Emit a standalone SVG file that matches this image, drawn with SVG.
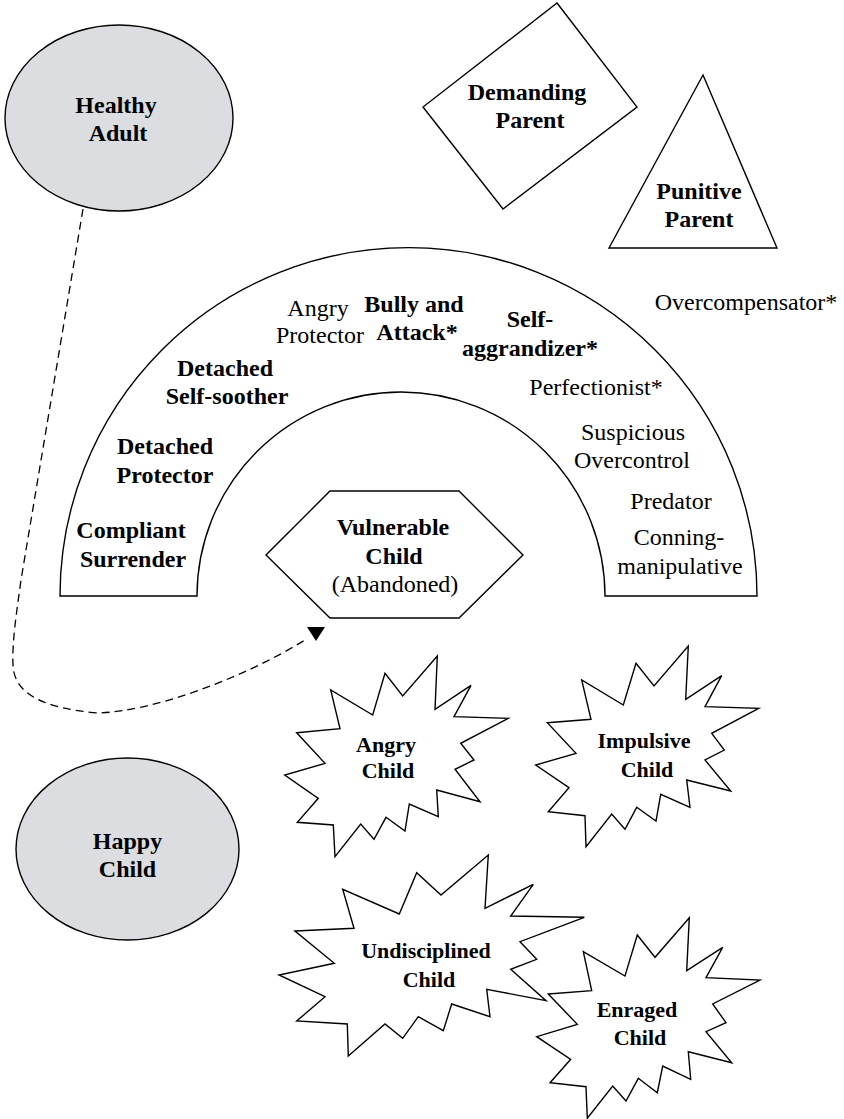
<svg xmlns="http://www.w3.org/2000/svg" width="844" height="1119" viewBox="0 0 844 1119">
  <style>
    .shape { fill: #ffffff; stroke: #000000; stroke-width: 1.4; stroke-linejoin: miter; }
    .mode { fill: #dcdde0; stroke: #000000; stroke-width: 1.4; }
    text { font-family: "Liberation Serif", "Times New Roman", serif; font-size: 24px; fill: #000000; text-anchor: middle; }
    .b { font-weight: bold; }
    .star { font-size: 22px; font-weight: bold; }
    .link { fill: none; stroke: #000000; stroke-width: 1.3; stroke-dasharray: 8 5; }
  </style>

  <!-- Healthy Adult -->
  <g id="healthy-adult">
    <ellipse class="mode" cx="119" cy="118" rx="114" ry="93"/>
    <text class="b" x="116" y="113">Healthy</text>
    <text class="b" x="118" y="141">Adult</text>
  </g>

  <!-- Demanding Parent -->
  <g id="demanding-parent">
    <polygon class="shape" points="557,3 637,107 503,209 423,107"/>
    <text class="b" x="527" y="100">Demanding</text>
    <text class="b" x="530" y="128">Parent</text>
  </g>

  <!-- Punitive Parent -->
  <g id="punitive-parent">
    <polygon class="shape" points="703,75 777,248 609,248"/>
    <text class="b" x="699" y="199">Punitive</text>
    <text class="b" x="699" y="227">Parent</text>
  </g>

  <!-- Coping modes arch -->
  <g id="coping-arch">
    <path class="shape" d="M60,596 A348.5,348.5 0 0 1 757,596 L605,596 A204,204 0 0 0 197,596 Z"/>
    <text x="318" y="316">Angry</text>
    <text x="320" y="343">Protector</text>
    <text class="b" x="414" y="312">Bully and</text>
    <text class="b" x="417" y="340">Attack*</text>
    <text class="b" x="530" y="327">Self-</text>
    <text class="b" x="530" y="356">aggrandizer*</text>
    <text x="596" y="395">Perfectionist*</text>
    <text x="633" y="440">Suspicious</text>
    <text x="632" y="468">Overcontrol</text>
    <text x="671" y="509">Predator</text>
    <text x="679" y="545">Conning-</text>
    <text x="680" y="574">manipulative</text>
    <text class="b" x="225" y="376">Detached</text>
    <text class="b" x="227" y="404">Self-soother</text>
    <text class="b" x="165" y="454">Detached</text>
    <text class="b" x="165" y="483">Protector</text>
    <text class="b" x="131" y="538">Compliant</text>
    <text class="b" x="133" y="567">Surrender</text>
  </g>

  <!-- Overcompensator label -->
  <g id="overcompensator">
    <text x="746" y="310">Overcompensator*</text>
  </g>

  <!-- Vulnerable Child -->
  <g id="vulnerable-child">
    <polygon class="shape" points="266,555 330,491 459,491 523,555 459,618 330,618"/>
    <text class="b" x="393" y="535">Vulnerable</text>
    <text class="b" x="394" y="564">Child</text>
    <text x="395" y="592">(Abandoned)</text>
  </g>

  <!-- Angry Child -->
  <g id="angry-child">
    <polygon class="shape" points="296.7,732.7 340,728.7 330.7,690 372.7,715 385,673.3 402.7,696 437.3,656 435,709.3 471,685.3 454,716.7 508.3,718.3 460.7,743.3 474,760 455,769.3 480,801.7 436.7,790 438.3,816.7 409.3,804 405,831 386,817.3 374,839.3 360.7,824 335,856.7 333.3,825 297.3,822.3 318.3,798.3 284.7,775 325,763.3"/>
    <text class="star" x="386" y="752">Angry</text>
    <text class="star" x="388" y="778">Child</text>
  </g>

  <!-- Impulsive Child -->
  <g id="impulsive-child">
    <polygon class="shape" points="547.3,722.7 591,719.3 581.7,680 623.3,705 636,663.3 654,686 688.3,646 685.7,699.3 721.7,675.7 705,706.7 758.7,708.3 711.7,733.3 724.3,750 705,760 730.7,791 686.7,780 690,807.3 660.7,794.3 656,821 636.7,807.3 625,829.3 611.7,814 586,846.7 585,815.7 548.3,811.7 569,787.7 535.7,765 576,753.3"/>
    <text class="star" x="644" y="748">Impulsive</text>
    <text class="star" x="647" y="777">Child</text>
  </g>

  <!-- Happy Child -->
  <g id="happy-child">
    <ellipse class="mode" cx="127.5" cy="849" rx="111.5" ry="91"/>
    <text class="b" x="127.5" y="849">Happy</text>
    <text class="b" x="127.5" y="877">Child</text>
  </g>

  <!-- Undisciplined Child -->
  <g id="undisciplined-child">
    <polygon class="shape" points="295,931 354,928.3 342.7,889.3 399.3,914 416.7,872.7 441,895 488.3,855 485,908.3 533.3,884.3 510.7,916 584.3,917.3 520,941.7 536.7,959.3 510.7,969.3 546,1000.7 486.7,989.3 490,1016.7 451.7,1004 443.3,1030.7 418.3,1016.7 402.7,1038.3 385,1024 348.3,1056 347.3,1024 296.7,1021 325,996.7 279,975 334.3,963.3"/>
    <text class="star" x="426" y="958">Undisciplined</text>
    <text class="star" x="429" y="987">Child</text>
  </g>

  <!-- Enraged Child -->
  <g id="enraged-child">
    <polygon class="shape" points="548.3,994 591.7,990.7 583.3,951.7 625,976 637.3,935 655,957.3 689.3,917.7 686.7,970.7 722.7,947.3 706,977.7 760,980 712.7,1004 726,1022.7 706,1031.7 731.7,1062.7 688.3,1051.7 690.7,1079.3 662.7,1066 657.3,1092.7 638.3,1078.3 626,1101 612.7,1086 587.3,1118.3 586,1086.7 550,1082.7 570.7,1059.3 536.7,1036.7 577.3,1024.3"/>
    <text class="star" x="637" y="1017">Enraged</text>
    <text class="star" x="640" y="1045">Child</text>
  </g>

  <!-- Connectors -->
  <g id="connectors">
    <path class="link" d="M83,209 L21,580 C17,610 12,640 13,665 C14,695 45,708 97,713 C150,712 240,680 305,640"/>
    <polygon points="307,627 325,627 316,641" fill="#000000"/>
  </g>
</svg>
